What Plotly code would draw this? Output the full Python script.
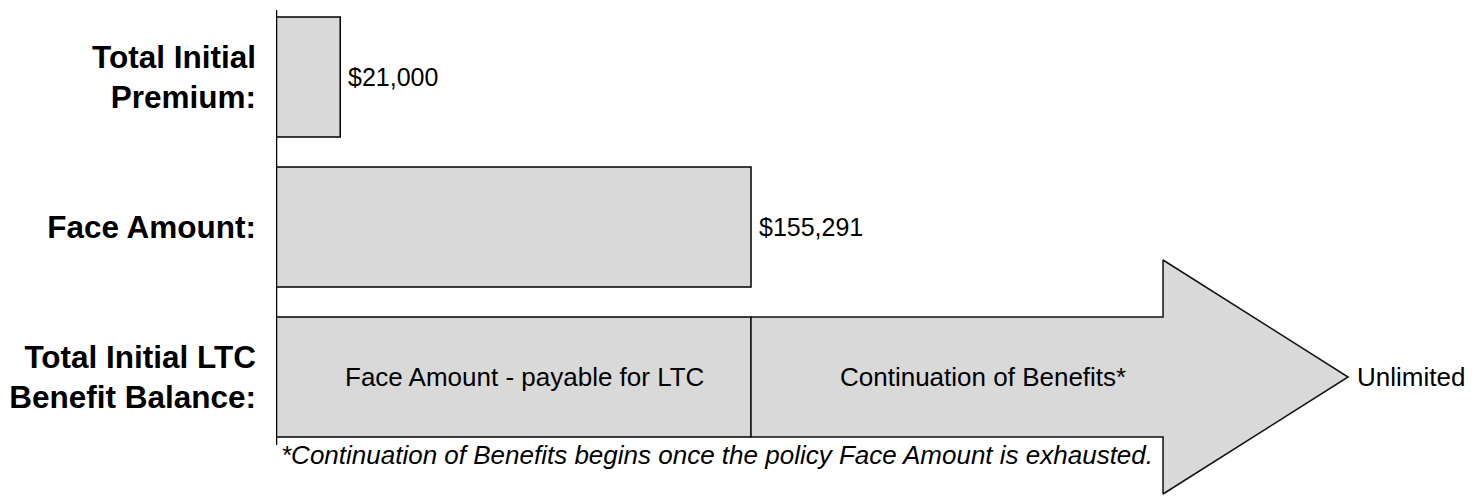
import plotly.graph_objects as go

# ---- data ----
CATEGORIES = ["Total Initial<br>Premium:", "Face Amount:", "Total Initial LTC<br>Benefit Balance:"]
BAR_VALUES = [21000, 155291, 155291]
VALUE_LABELS = ["$21,000", "$155,291", ""]
INSIDE_LABELS = ["", "", "Face Amount - payable for LTC"]
CONTINUATION_LABEL = "Continuation of Benefits*"
CONTINUATION_VALUE_LABEL = "Unlimited"
FOOTNOTE = "*Continuation of Benefits begins once the policy Face Amount is exhausted."

# ---- layout / styling constants ----
FONT = "Liberation Sans, Arial, sans-serif"
FILL = "#D9D9D9"
BAR_WIDTH = 0.8
X_MAX = 393950
Y_RANGE = [2.7933, -0.46]
ARROW_BODY_END = 290000
ARROW_TIP = 350500
ARROW_HEAD_HALF = 0.78
CONT_LABEL_X = 231000

pos = list(range(len(CATEGORIES)))
arrow_row = pos[-1]
face = BAR_VALUES[-1]
bh = BAR_WIDTH / 2

fig = go.Figure()

# arrow for continuation of benefits
ax = [face, ARROW_BODY_END, ARROW_BODY_END, ARROW_TIP, ARROW_BODY_END, ARROW_BODY_END, face, face]
ay = [arrow_row - bh, arrow_row - bh, arrow_row - ARROW_HEAD_HALF, arrow_row,
      arrow_row + ARROW_HEAD_HALF, arrow_row + bh, arrow_row + bh, arrow_row - bh]
fig.add_trace(go.Scatter(x=ax, y=ay, mode="lines", fill="toself", fillcolor=FILL,
                         line=dict(color="#111111", width=1.5), hoverinfo="skip",
                         showlegend=False, cliponaxis=False))

fig.add_trace(go.Bar(
    y=pos, x=BAR_VALUES, orientation="h", width=BAR_WIDTH,
    marker=dict(color=FILL, line=dict(color="#000000", width=1.5)),
    showlegend=False, hoverinfo="skip",
))

for p, v, lab, inner in zip(pos, BAR_VALUES, VALUE_LABELS, INSIDE_LABELS):
    if lab:
        fig.add_annotation(x=v, y=p, text=lab, showarrow=False, xanchor="left",
                           xshift=6, font=dict(family=FONT, size=25, color="#000000"))
    if inner:
        fig.add_annotation(x=v / 2, y=p, text=inner, showarrow=False, xshift=11,
                           font=dict(family=FONT, size=26, color="#000000"))

fig.add_annotation(x=CONT_LABEL_X, y=arrow_row, text=CONTINUATION_LABEL, showarrow=False,
                   font=dict(family=FONT, size=26, color="#000000"))
fig.add_annotation(x=ARROW_TIP, y=arrow_row, text=CONTINUATION_VALUE_LABEL, showarrow=False,
                   xanchor="left", xshift=7, font=dict(family=FONT, size=26, color="#000000"))
fig.add_annotation(x=0, y=2.52, text="<i>" + FOOTNOTE + "</i>", showarrow=False,
                   xanchor="left", xshift=3, font=dict(family=FONT, size=26, color="#000000"))

# y axis line
fig.add_shape(type="line", xref="x", yref="y", x0=0, x1=0, y0=-0.4467, y1=2.453,
              line=dict(color="#000000", width=2.5))

fig.update_layout(
    width=1473, height=488,
    margin=dict(l=268, r=0, t=0, b=0),
    paper_bgcolor="white", plot_bgcolor="white",
    xaxis=dict(range=[0, X_MAX], visible=False, fixedrange=True),
    yaxis=dict(range=Y_RANGE, tickvals=pos,
               ticktext=["<b>" + c.replace("<br>", "</b><br><b>") + "</b>" for c in CATEGORIES],
               showgrid=False, zeroline=False, showline=False, ticks="",
               ticklabelstandoff=19,
               tickfont=dict(family=FONT, size=31.5, color="#000000"), fixedrange=True),
    font=dict(family=FONT),
)

fig.write_html("out.html", config={"displayModeBar": False})
